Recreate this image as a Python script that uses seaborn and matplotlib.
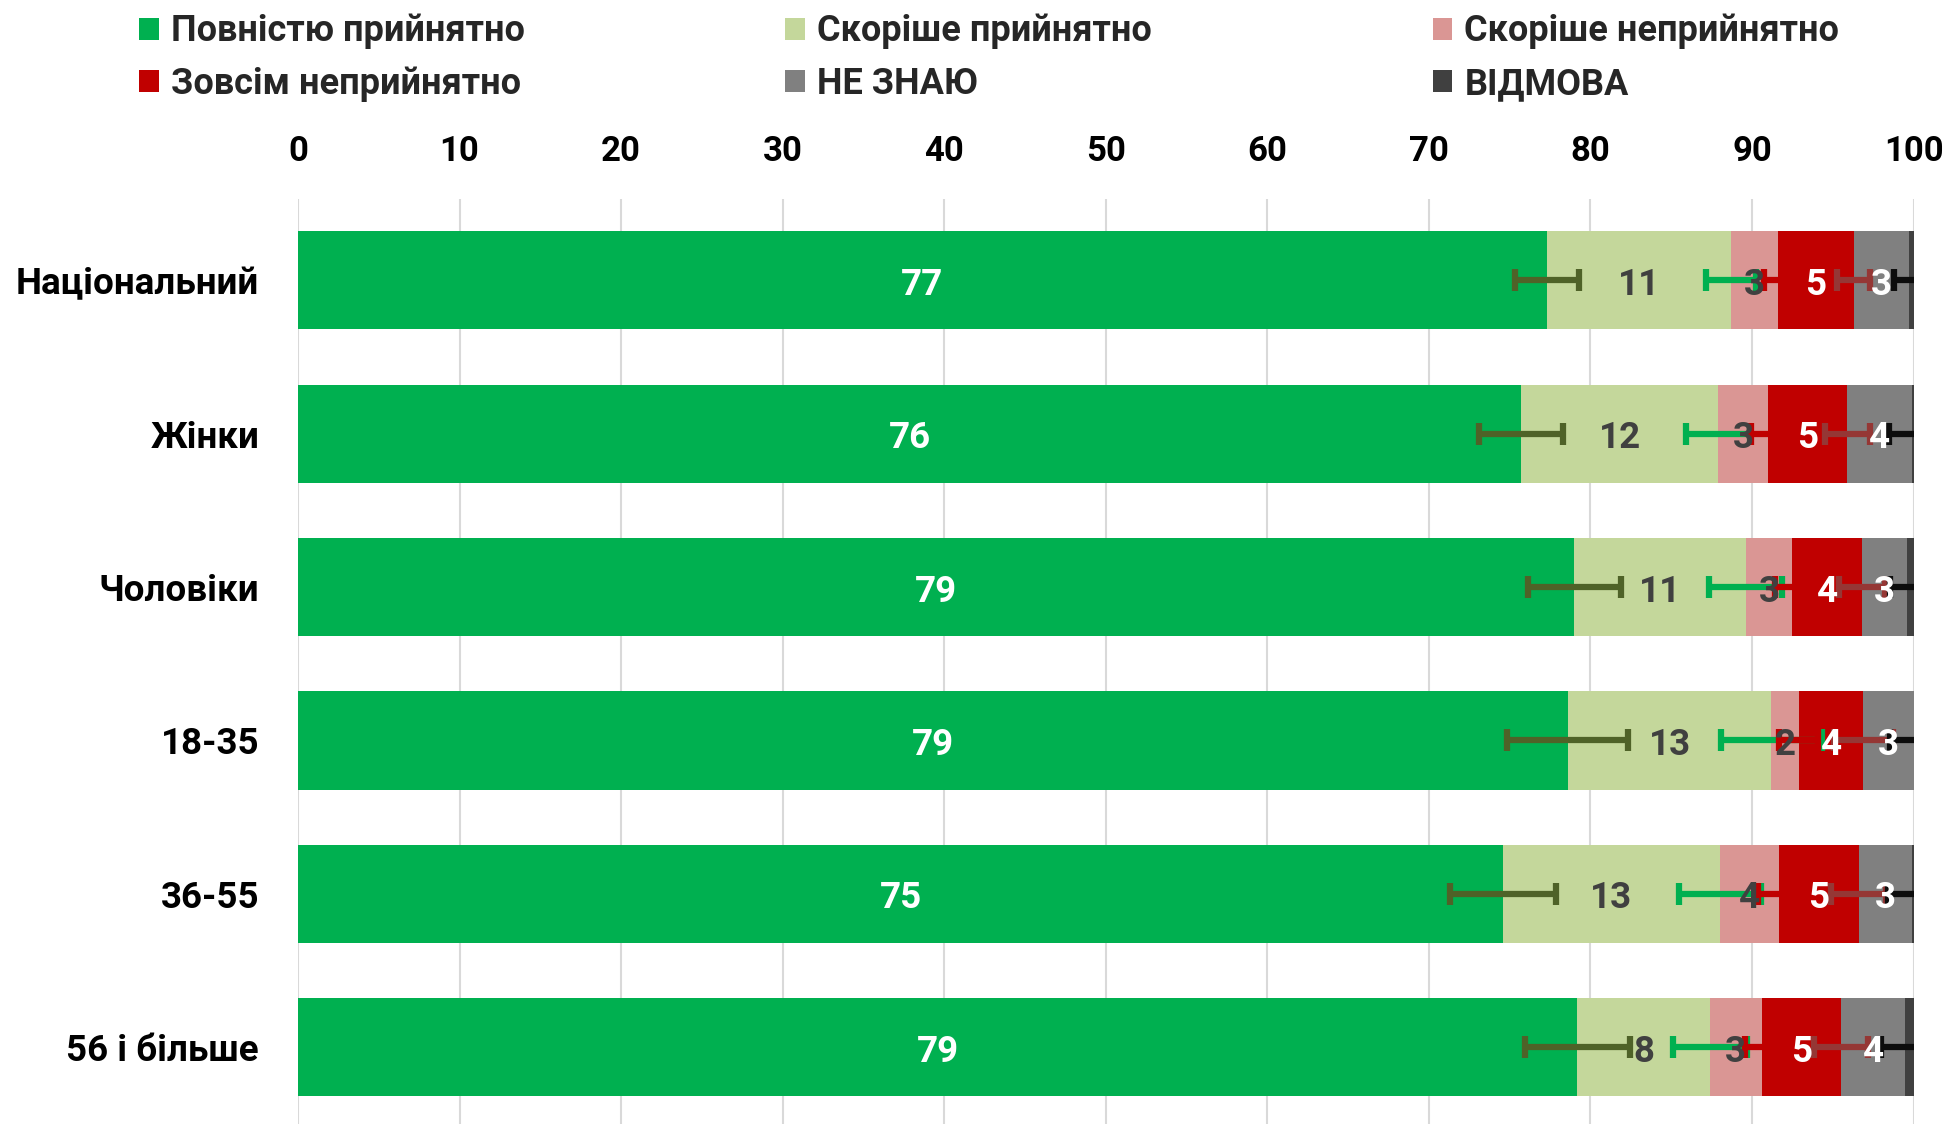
# ============================================================
# plot.py
# Stacked horizontal bar chart of acceptability answers by group,
# with error bars at the end of each answer segment.
# ============================================================

import matplotlib
matplotlib.use('Agg')
import pandas as pd
from matplotlib import pyplot as plt
from matplotlib.patches import Patch
import seaborn as sns

# ---- data ----
categories = ['Національний', 'Жінки', 'Чоловіки', '18-35', '36-55', '56 і більше']
series_names = ['Повністю прийнятно', 'Скоріше прийнятно', 'Скоріше неприйнятно',
                'Зовсім неприйнятно', 'НЕ ЗНАЮ', 'ВІДМОВА']

fully = [77.3, 75.7, 79.0, 78.6, 74.6, 79.2]
rather = [11.4, 12.2, 10.6, 12.6, 13.4, 8.2]
rather_not = [2.9, 3.1, 2.9, 1.7, 3.7, 3.2]
not_at_all = [4.7, 4.9, 4.3, 4.0, 4.9, 4.9]
dont_know = [3.4, 4.0, 2.8, 3.1, 3.3, 4.0]
refused = [0.3, 0.1, 0.4, 0.0, 0.1, 0.5]

# half widths of the error bars (same units as the values)
err_fully = [1.97, 2.6, 2.88, 3.75, 3.3, 3.25]
err_rather = [1.56, 2.0, 2.28, 3.12, 2.54, 2.28]
err_rather_not = [0.87, 1.04, 1.08, 1.2, 1.3, 1.04]
err_not_at_all = [1.02, 1.41, 1.41, 1.84, 1.69, 1.69]
err_dont_know = [0.93, 1.4, 1.08, 1.45, 1.5, 1.52]

x_ticks = list(range(0, 101, 10))

# ---- styling ----
BAR_COLORS = ['#00B050', '#C4D79B', '#DA9694', '#C00000', '#808080', '#404040']
ERR_COLORS = ['#4F6228', '#00B050', '#C00000', '#953735', '#0D0D0D']
LABEL_COLORS = ['white', '#404040', '#404040', 'white', 'white']
FONT = ['Roboto', 'DejaVu Sans']
FS_TICK = 25
FS_CAT = 26.5
FS_LABEL = 26.5
FS_LEGEND = 26


def build_frame() -> pd.DataFrame:
    """Long table of segment values with the cumulative end of every segment."""
    wide = pd.DataFrame({name: vals for name, vals in zip(
        series_names, [fully, rather, rather_not, not_at_all, dont_know, refused])})
    cum = wide[series_names].cumsum(axis=1)
    long = (cum.assign(category=categories)
            .melt(id_vars='category', var_name='series', value_name='cum'))
    long['value'] = wide[series_names].melt()['value']
    return long


def plot_chart(df: pd.DataFrame) -> None:
    sns.set_theme(style='white')
    plt.rcParams['font.family'] = FONT
    plt.rcParams['font.weight'] = 'bold'

    fig = plt.figure(figsize=(19.49, 11.24), dpi=100)
    ax = fig.add_axes([0.1529, 0.0, 0.8289, 0.823])

    # stacked bars: draw cumulative totals from the last series back to the first
    for name, color in reversed(list(zip(series_names, BAR_COLORS))):
        sub = df[df['series'] == name]
        sns.barplot(data=sub, x='cum', y='category', order=categories, orient='h',
                    color=color, saturation=1, width=0.64, ax=ax, zorder=2,
                    linewidth=0)

    # error bars at the cumulative end of each segment
    errs = [err_fully, err_rather, err_rather_not, err_not_at_all, err_dont_know]
    for name, err, color in zip(series_names[:5], errs, ERR_COLORS):
        sub = df[df['series'] == name]
        ax.errorbar(sub['cum'].values, range(len(categories)), xerr=err, fmt='none',
                    ecolor=color, elinewidth=4.5, capsize=8, capthick=4.5, zorder=3)

    # value labels in the middle of the segments
    for name, color in zip(series_names[:5], LABEL_COLORS):
        sub = df[df['series'] == name].reset_index(drop=True)
        for row, r in sub.iterrows():
            center = r['cum'] - r['value'] / 2
            ax.text(center, row + 0.03, f"{r['value']:.0f}", ha='center', va='center',
                    color=color, fontsize=FS_LABEL, fontweight='bold', zorder=4)

    ax.set_xlim(0, 100)
    ax.set_ylim(5.5, -0.53)
    ax.xaxis.tick_top()
    ax.set_xticks(x_ticks)
    ax.set_xticklabels([str(t) for t in x_ticks], fontsize=FS_TICK, fontweight='bold')
    ax.set_yticks(range(len(categories)))
    ax.set_yticklabels(categories, fontsize=FS_CAT, fontweight='bold')
    ax.tick_params(axis='x', length=0, pad=22, colors='black')
    ax.tick_params(axis='y', length=0, pad=28, colors='black')
    ax.set_xlabel('')
    ax.set_ylabel('')
    ax.grid(axis='x', color='#D9D9D9', linewidth=1.5, zorder=0)
    ax.set_axisbelow(True)
    sns.despine(ax=ax, left=True, bottom=True, top=True, right=True)

    # legend: three columns of two rows
    handles = [Patch(facecolor=c, edgecolor='none') for c in BAR_COLORS]
    col_x = [0.0714, 0.4030, 0.7350]
    for col, x in enumerate(col_x):
        idx = [col, col + 3]
        fig.legend([handles[k] for k in idx], [series_names[k] for k in idx],
                   loc='upper left', bbox_to_anchor=(x, 0.988), frameon=False,
                   handlelength=0.55, handleheight=0.55,
                   handletextpad=0.33, labelspacing=0.45, borderpad=0,
                   borderaxespad=0,
                   prop={'family': FONT, 'weight': 'bold', 'size': FS_LEGEND})

    fig.savefig('out.png', dpi=100)
    plt.close(fig)


if __name__ == '__main__':
    plot_chart(build_frame())
